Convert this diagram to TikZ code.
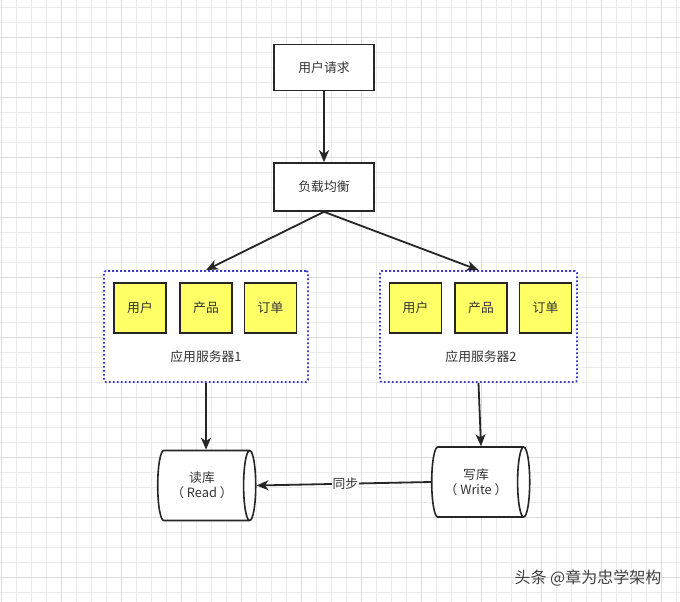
\documentclass[tikz,border=0pt]{standalone}
\usepackage{fontspec}
\setmainfont{Noto Sans CJK SC}
\usetikzlibrary{arrows.meta,shapes.geometric}

\definecolor{inkgray}{RGB}{51,51,51}
\definecolor{gridgray}{RGB}{235,235,235}
\definecolor{gridmajor}{RGB}{220,220,220}
\definecolor{dotblue}{RGB}{60,60,200}
\definecolor{boxyellow}{RGB}{255,255,102}

\tikzset{every picture/.style={line width=0.75pt}}
\tikzset{
  plainbox/.style={draw=black!85, line width=1.6pt, fill=white, minimum width=100, minimum height=46, font=\fontsize{12.8}{15}\selectfont, text=inkgray},
  modbox/.style={draw=black!85, line width=1.6pt, fill=boxyellow, minimum width=52, minimum height=50, font=\fontsize{12.8}{15}\selectfont, text=inkgray},
  groupbox/.style={draw=dotblue, line width=1.8pt, dash pattern=on 1.8pt off 2.2pt, rounded corners=2pt, fill=white, minimum width=204, minimum height=111},
  dbnode/.style={draw=black!85, line width=1.6pt, fill=white, shape=cylinder, aspect=0.36, minimum width=70, minimum height=98, align=center, font=\fontsize{12.8}{15}\selectfont, text=inkgray},
  flow/.style={draw=black!85, line width=1.8pt, -{Stealth[length=12pt,width=10pt,inset=3.5pt]}},
}

\begin{document}
\begin{tikzpicture}[x=1pt,y=1pt,yscale=-1]
\useasboundingbox (0,0) rectangle (680,602);
\fill[white] (0,0) rectangle (680,602);

%Grid
\draw[gridgray, line width=0.5pt, shift={(1,7)}, xstep=15, ystep=15] (-15,-15) grid (690,600);
\draw[gridmajor, line width=0.6pt, shift={(1,37)}, xstep=60, ystep=60] (-60,-60) grid (690,600);

%Shape: Rectangle
\node[plainbox] (req) at (324,67.5) {用户请求};
\node[plainbox, minimum height=48] (lb) at (324,187) {负载均衡};

%Shape: Group 1
\node[groupbox] (grp1) at (206,326.5) {};
\node[modbox] (u1) at (140,308) {用户};
\node[modbox] (p1) at (206,308) {产品};
\node[modbox] (o1) at (270.5,308) {订单};
% Text Node
\node[font=\fontsize{12.8}{15}\selectfont, text=inkgray] (lbl1) at (206,357) {应用服务器1};

%Shape: Group 2
\node[groupbox, minimum width=197] (grp2) at (478.5,326.5) {};
\node[modbox] (u2) at (415.5,308) {用户};
\node[modbox] (p2) at (481,308) {产品};
\node[modbox] (o2) at (545.5,308) {订单};
% Text Node
\node[font=\fontsize{12.8}{15}\selectfont, text=inkgray] (lbl2) at (481,357) {应用服务器2};

%Shape: Cylinder
\node[dbnode] (rdb) at (202,485.5) {读库\\（ Read ）};
\node[dbnode] (wdb) at (476,482) {写库\\（ Write ）};

%Straight Lines
\draw[flow] (req) -- (lb);
\draw[flow] (lb.south) -- (grp1.north);
\draw[flow] (lb.south) -- (grp2.north);
\draw[flow] (grp1.south) -- (grp1.south |- rdb.north);
\draw[flow] (grp2.south) -- ([xshift=5]wdb.north);
\draw[flow] (wdb.west) -- (rdb.east)
  node[pos=0.49, fill=white, inner sep=1pt, font=\fontsize{12.8}{15}\selectfont, text=inkgray] (sync) {同步};

% Text Node
\node[font=\fontsize{16}{19}\selectfont, text=black!75] (mark) at (588,578) {头条 @章为忠学架构};

\end{tikzpicture}
\end{document}
